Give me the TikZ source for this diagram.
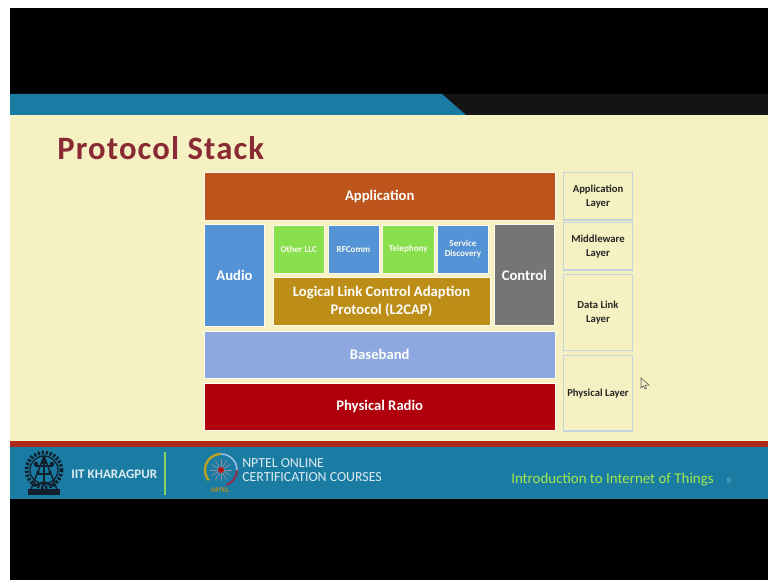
\documentclass[tikz,border=0pt]{standalone}
\usepackage{fontspec}
\setmainfont{Carlito}
\definecolor{cream}{HTML}{F5F1C2}
\definecolor{teal}{HTML}{1A7CA3}
\definecolor{footred}{HTML}{B02A1C}
\definecolor{darkband}{HTML}{141414}
\definecolor{appc}{HTML}{BC541C}
\definecolor{bluec}{HTML}{5494D6}
\definecolor{greenc}{HTML}{88E04C}
\definecolor{goldc}{HTML}{BC8E18}
\definecolor{grayc}{HTML}{757575}
\definecolor{basec}{HTML}{8CA8DE}
\definecolor{radioc}{HTML}{B0000E}
\definecolor{layerb}{HTML}{C5D3DC}
\definecolor{titlec}{HTML}{8A2A34}
\definecolor{limec}{HTML}{A4E84C}
\definecolor{foottext}{HTML}{DCEBF0}
\definecolor{logoc}{HTML}{10202C}
\tikzset{
  blockbox/.style={draw=white!70!cream,line width=0.5pt,inner sep=0pt,align=center,text=white!95!cream},
  bigbox/.style={blockbox,font=\fontsize{11}{13.2}\bfseries},
  smallbox/.style={blockbox,font=\fontsize{6.8}{8}\bfseries,text=white!75!cream},
  layerbox/.style={draw=layerb,line width=1pt,fill=cream,inner sep=0pt,align=center,text=black!85,font=\fontsize{8}{10.6}\bfseries},
}
\begin{document}
\begin{tikzpicture}[x=0.75pt,y=-0.75pt]
\useasboundingbox (0,0) rectangle (768,580);
\fill[white] (0,0) rectangle (768,580);
\fill[black] (10,8) rectangle (768,580);
% slide
\fill[cream] (10,115) rectangle (768,442);
\fill[darkband] (442,94) -- (768,94) -- (768,115) -- (466,115) -- cycle;
\fill[teal] (10,94) -- (442,94) -- (466,115) -- (10,115) -- cycle;
\fill[footred] (10,441) rectangle (768,447);
\fill[teal] (10,447) rectangle (768,499);
% title
\node[anchor=west,inner sep=0pt,text=titlec,font=\fontsize{24.5}{26}\bfseries\addfontfeature{LetterSpace=3.5}] (title) at (57,148) {Protocol Stack};
% blocks
\node[bigbox,fill=appc,minimum width=263.2pt,minimum height=35.5pt] (app) at (379.7,196.5) {\raisebox{-0.7pt}{Application}};
\node[bigbox,fill=bluec,minimum width=45pt,minimum height=76pt] (audio) at (234.5,275.5) {Audio};
\node[smallbox,fill=greenc,minimum width=38.5pt,minimum height=36pt] (llc) at (298.7,249.2) {Other LLC};
\node[smallbox,fill=bluec,minimum width=38.5pt,minimum height=36pt] (rf) at (353.5,249.2) {RFComm};
\node[smallbox,fill=greenc,minimum width=38.5pt,minimum height=36pt] (tel) at (408.3,249.2) {Telephony};
\node[smallbox,fill=bluec,minimum width=38.5pt,minimum height=36pt] (sd) at (463,249.2) {Service\\Discovery};
\node[bigbox,fill=goldc,minimum width=162.8pt,minimum height=35.7pt] (l2) at (381.5,301.5) {\raisebox{-0.9pt}{Logical Link Control Adaption}\\\raisebox{-0.9pt}{Protocol (L2CAP)}};
\node[bigbox,fill=grayc,minimum width=44.6pt,minimum height=76pt] (ctrl) at (524.3,275) {Control};
\node[bigbox,fill=basec,minimum width=263.2pt,minimum height=35.5pt] (base) at (379.7,354.6) {Baseband};
\node[bigbox,fill=radioc,minimum width=263.2pt,minimum height=35.5pt] (radio) at (379.7,407) {\raisebox{-0.9pt}{Physical Radio}};
% layers
\node[layerbox,minimum width=51.5pt,minimum height=35.5pt] (l1) at (598,196.2) {Application\\Layer};
\node[layerbox,minimum width=51.5pt,minimum height=35.5pt] (l2b) at (598,246.4) {Middleware\\Layer};
\node[layerbox,minimum width=51.5pt,minimum height=57.3pt] (l3) at (598,312.5) {Data Link\\Layer};
\node[layerbox,minimum width=51.5pt,minimum height=56.5pt] (l4) at (598,393.3) {Physical Layer};
% cursor
\draw[draw=black!60,fill=cream,line width=0.5pt] (641,378) -- (641,388) -- (643.5,385.8) -- (645,389) -- (646.5,388.2) -- (645.2,385.3) -- (649,385) -- cycle;
% IIT logo
\begin{scope}[logoc]
  \draw[line width=2.8pt,dash pattern=on 1.7pt off 1.3pt] (44,470) circle (17.5);
  \draw[line width=1pt] (44,470) circle (14);
  \draw[line width=1.1pt] (44,456) -- (30,492) (44,456) -- (58,492);
  \draw[line width=1.8pt] (44,458) -- (44,486);
  \draw[line width=1.1pt] (35,466) -- (53,466) (37,474) -- (51,474);
  \fill (36,464) circle (2.3) (52,464) circle (2.3) (44,462) circle (2.6) (38,472) circle (1.8) (50,472) circle (1.8);
  \draw[line width=1.5pt] (34,486) -- (44,482) -- (54,486);
  \fill (28,489) rectangle (60,495);
\end{scope}
\node[anchor=west,inner sep=0pt,text=foottext,font=\fontsize{9.8}{11}\bfseries] (iit) at (71,474) {IIT KHARAGPUR};
\draw[limec!80!teal,line width=0.9pt] (165,452) -- (165,495);
% NPTEL logo
\foreach \a in {0,30,...,330}{\draw[radioc!35!foottext!70!teal,line width=0.5pt] (221,470) -- ++(\a:11);}
\fill[radioc!85!goldc] (221,470) circle (3);
\draw[goldc!80!limec,line width=1.8pt] (221,454) arc (-90:-220:16);
\draw[radioc!70!bluec,line width=1.5pt] (237,470) arc (0:70:16);
\draw[foottext!50!bluec,line width=1.2pt] (221,454) arc (-90:0:16);
\node[inner sep=0pt,text=goldc,font=\fontsize{5.2}{6}\bfseries] (nl) at (220,490.5) {NPTEL};
\node[anchor=west,inner sep=0pt,text=foottext,align=left,font=\fontsize{10.4}{10.4}\selectfont] (np) at (242,470) {NPTEL ONLINE\\CERTIFICATION COURSES};
\node[anchor=west,inner sep=0pt,text=limec,font=\fontsize{11.2}{13}\selectfont] (intro) at (511,479.5) {Introduction to Internet of Things};
\node[inner sep=0pt,text=foottext!50!teal,font=\fontsize{6}{7}\selectfont] (pg) at (729,481) {8};
\end{tikzpicture}
\end{document}
